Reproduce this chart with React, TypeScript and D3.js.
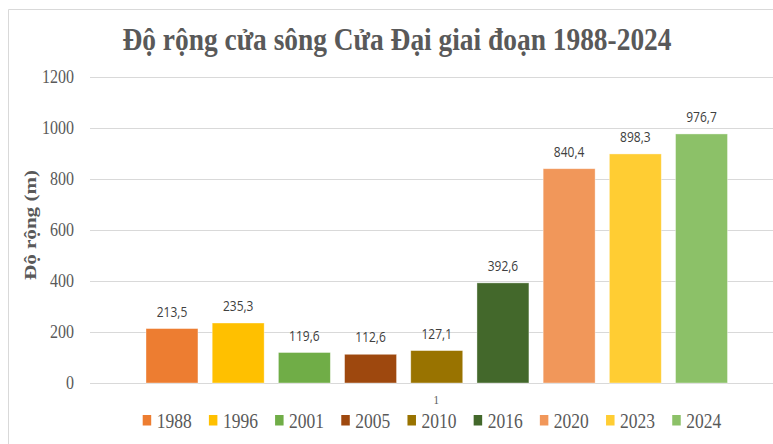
import React from "react";
import * as d3 from "d3";

const years = ["1988", "1996", "2001", "2005", "2010", "2016", "2020", "2023", "2024"];
const widths = [213.5, 235.3, 119.6, 112.6, 127.1, 392.6, 840.4, 898.3, 976.7];
const labels = ["213,5", "235,3", "119,6", "112,6", "127,1", "392,6", "840,4", "898,3", "976,7"];
const colors = ["#ED7D31", "#FFC000", "#70AD47", "#9E480E", "#997300", "#43682B", "#F1975A", "#FFCD33", "#8CC168"];
const yTicks = [0, 200, 400, 600, 800, 1000, 1200];
const title = "Độ rộng cửa sông Cửa Đại giai đoạn 1988-2024";
const yTitle = "Độ  rộng (m)";
const categoryLabel = "1";

const W = 773;
const H = 444;
const SY = 1.2;
const serif = "'Liberation Serif', 'Times New Roman', serif";
const sans = "'Open Sans', 'Noto Sans', sans-serif";
const gray = "#595959";

export default function App() {
  const x = d3.scaleBand<string>().domain(years).range([146, 727.5]).paddingInner(0.215).paddingOuter(0);
  const y = d3.scaleLinear().domain([0, 1200]).range([383, 77]);
  const bw = x.bandwidth();

  return (
    <svg
      width={W}
      height={H}
      style={{ position: "absolute", left: 0, top: 0, background: "#fff" }}
    >
      <rect x={0} y={0} width={W} height={H} fill="#fff" />
      {/* chart border */}
      <line x1={8.5} y1={9.5} x2={W} y2={9.5} stroke="#d9d9d9" />
      <line x1={8.5} y1={9.5} x2={8.5} y2={H} stroke="#d9d9d9" />

      {/* title */}
      <text
        transform={`translate(397,50) scale(1,${SY})`}
        textAnchor="middle"
        fontFamily={serif}
        fontWeight="bold"
        fontSize={26.5}
        fill={gray}
        textLength={549}
        lengthAdjust="spacingAndGlyphs"
      >
        {title}
      </text>

      {/* gridlines & y ticks */}
      {yTicks.map((t) => (
        <g key={t}>
          <line x1={90} x2={W} y1={Math.round(y(t)) + 0.5} y2={Math.round(y(t)) + 0.5} stroke="#d9d9d9" />
          <text
            transform={`translate(74,${y(t) + 5.5}) scale(1,${SY})`}
            textAnchor="end"
            fontFamily={serif}
            fontSize={16}
            fill={gray}
          >
            {t}
          </text>
        </g>
      ))}

      {/* y axis title */}
      <text
        transform={`translate(36,225) rotate(-90)`}
        textAnchor="middle"
        fontFamily={serif}
        fontWeight="bold"
        fontSize={16}
        fill={gray}
        textLength={110}
        lengthAdjust="spacingAndGlyphs"
      >
        {yTitle}
      </text>

      {/* bars */}
      {years.map((yr, i) => (
        <g key={yr}>
          <rect
            x={x(yr)}
            y={y(widths[i])}
            width={bw}
            height={y(0) - y(widths[i])}
            fill={colors[i]}
            stroke="#ffffff"
            strokeOpacity={0.5}
            strokeWidth={0.75}
          />
          <text
            transform={`translate(${(x(yr) as number) + bw / 2},${y(widths[i]) - 12}) scale(1,${SY})`}
            textAnchor="middle"
            fontFamily={sans}
            fontSize={12}
            fill="#404040"
          >
            {labels[i]}
          </text>
        </g>
      ))}

      {/* category label */}
      <text
        transform={`translate(${(x.range()[0] + x.range()[1]) / 2 - 0.5},404) scale(1,${SY})`}
        textAnchor="middle"
        fontFamily={serif}
        fontSize={11}
        fill={gray}
      >
        {categoryLabel}
      </text>

      {/* legend */}
      {years.map((yr, i) => {
        const lx = (x(yr) as number) - 3.3;
        return (
          <g key={"lg" + yr}>
            <rect x={lx} y={415} width={8.5} height={10.5} fill={colors[i]} />
            <text
              transform={`translate(${lx + 14},428) scale(1,${SY + 0.05})`}
              fontFamily={serif}
              fontSize={17.5}
              fill={gray}
            >
              {yr}
            </text>
          </g>
        );
      })}
    </svg>
  );
}
